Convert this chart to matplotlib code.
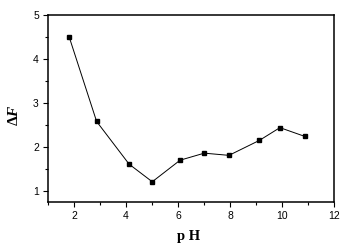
import numpy as np
import matplotlib
matplotlib.use("Agg")
import matplotlib.pyplot as plt
from matplotlib.ticker import MultipleLocator

plt.rcParams["mathtext.fontset"] = "custom"
plt.rcParams["mathtext.rm"] = "Liberation Serif:bold"
plt.rcParams["mathtext.it"] = "Liberation Serif:italic:bold"

# data
ph = [1.81, 2.87, 4.12, 5.01, 6.08, 7.01, 7.96, 9.13, 9.92, 10.88]
delta_f = [4.51, 2.58, 1.61, 1.21, 1.70, 1.86, 1.81, 2.15, 2.44, 2.24]

W, H = 353, 249
fig = plt.figure(figsize=(W / 100, H / 100), dpi=100)
ax = fig.add_axes([48 / W, 1 - 202 / H, 286 / W, 187 / H])

ax.plot(ph, delta_f, color="black", lw=0.7, marker="s", ms=3.2)

ax.set_xlim(1, 12)
ax.set_ylim(0.75, 5)
ax.xaxis.set_major_locator(MultipleLocator(2))
ax.xaxis.set_minor_locator(MultipleLocator(1))
ax.yaxis.set_major_locator(MultipleLocator(1))
ax.yaxis.set_minor_locator(MultipleLocator(0.5))
ax.tick_params(which="major", direction="out", length=3.6, width=0.8,
               labelsize=7.5, pad=3)
ax.tick_params(which="minor", direction="out", length=2.2, width=0.8)
for lab in ax.get_xticklabels() + ax.get_yticklabels():
    lab.set_family("Liberation Sans")
for s in ax.spines.values():
    s.set_linewidth(1.1)

fig.text(189 / W, 1 - 236 / H, "p H", family="Liberation Serif",
         fontweight="bold", fontsize=10.5, ha="center", va="center")
fig.text(14 / W, 1 - 115 / H, r"$\Delta F$", fontsize=11, rotation=90,
         ha="center", va="center")

fig.savefig("out.png", dpi=100)
